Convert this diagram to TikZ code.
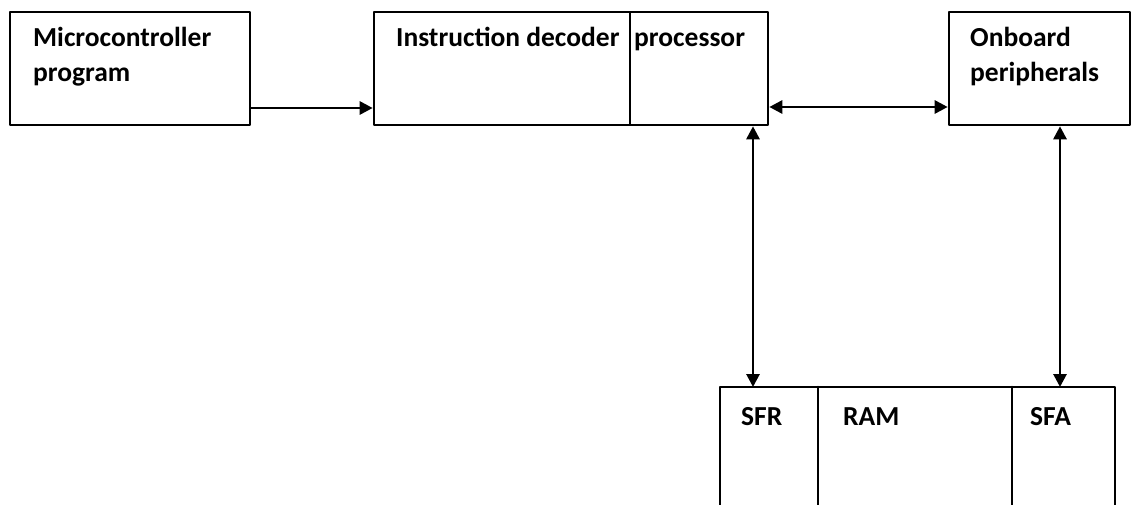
\documentclass[tikz,border=0pt]{standalone}
\usepackage{fontspec}
\setmainfont{Carlito}
\usetikzlibrary{arrows.meta}
\begin{document}
\begin{tikzpicture}[line cap=round,line join=round,>={Triangle[length=13pt,width=13pt]},x=1pt,y=-1pt,
	box/.style={draw,line width=2.6pt,inner sep=0pt},
	lbl/.style={font=\fontsize{27.5}{35}\selectfont\bfseries,align=left,inner sep=0pt,anchor=base west},
	link/.style={line width=2.8pt}]
	\useasboundingbox (0,0) rectangle (1132,505);
	\def\yB{387}
	% Các khối phía trên
	\node[box,minimum width=240pt,minimum height=113pt] (prog) at (130,68.5) {};
	\node[box,minimum width=256pt,minimum height=113pt] (dec) at (502,68.5) {};
	\node[box,minimum width=138pt,minimum height=113pt] (proc) at (699,68.5) {};
	\node[box,minimum width=181pt,minimum height=113pt] (board) at (1039.5,68.5) {};
	% Nhãn
	\node[lbl,anchor=north west] (progtxt) at (33,27.5) {Microcontroller\\program};
	\node[lbl] (dectxt) at (396,47) {Instruction decoder};
	\node[lbl] (proctxt) at (634,47) {processor};
	\node[lbl,anchor=north west] (boardtxt) at (970,27.5) {Onboard\\peripherals};
	% Khối bộ nhớ (hở phía dưới)
	\coordinate (memL) at (720,\yB);
	\coordinate (memR) at (1115,\yB);
	\coordinate (div1) at (818,\yB);
	\coordinate (div2) at (1012,\yB);
	\draw[line width=2.6pt] (720,505) -- (memL) -- (memR) -- (1115,505);
	\foreach \d in {div1,div2} {
		\draw[line width=2.6pt] (\d) -- (\d |- 0,505);
	}
	\node[lbl] (sfr) at (741,425) {SFR};
	\node[lbl] (ram) at (843,425) {RAM};
	\node[lbl] (sfa) at (1030,425) {SFA};
	% Các mũi tên
	\coordinate (sfrtop) at (753,\yB);
	\coordinate (sfatop) at (1060,\yB);
	\draw[link,->] ([yshift=-39.5pt]prog.east) -- ([yshift=-39.5pt]dec.west);
	\draw[link,<->] ([yshift=-38.5pt]proc.east) -- ([yshift=-38.5pt]board.west);
	\draw[link,<->] (sfrtop |- proc.south) -- (sfrtop);
	\draw[link,<->] (sfatop |- board.south) -- (sfatop);
\end{tikzpicture}
\end{document}
